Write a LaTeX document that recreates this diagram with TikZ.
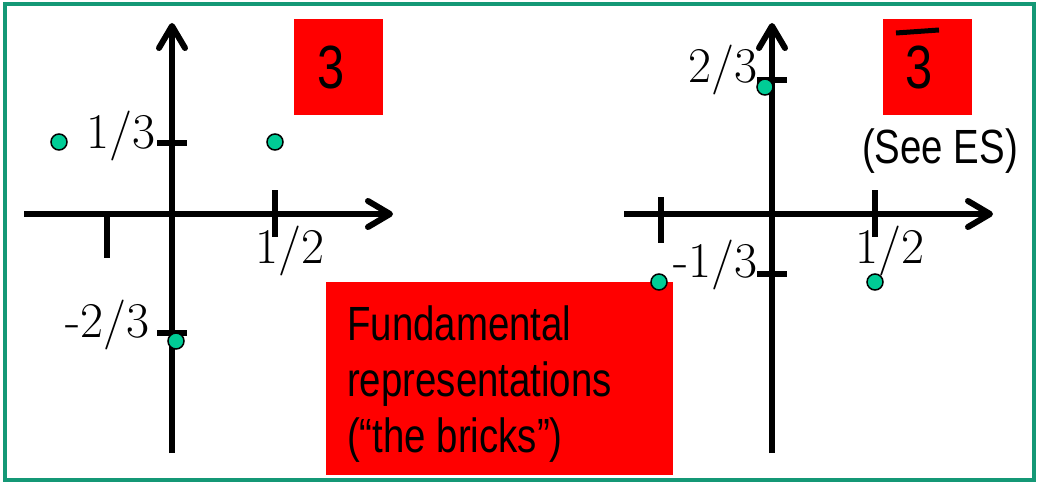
\documentclass[tikz,border=0pt]{standalone}
\usepackage{fontspec}
\newfontfamily\narrowsans[FakeStretch=0.8]{Liberation Sans}
\usetikzlibrary{arrows.meta}
\definecolor{framegreen}{RGB}{20,152,118}
\definecolor{dotgreen}{RGB}{0,204,150}
\definecolor{boxred}{RGB}{255,0,0}
\begin{document}
\begin{tikzpicture}[x=1pt,y=-1pt,
  axis/.style={line width=6pt,-{Straight Barb[length=22pt,width=26pt,round]}},
  tickline/.style={line width=6pt},
  dot/.style={circle,minimum size=16pt,inner sep=0pt,fill=dotgreen,draw=black,line width=1.5pt},
  lab/.style={inner sep=0pt,font=\fontsize{50}{50}\selectfont},
  redbox/.style={fill=boxred,inner sep=0pt,draw=none},
  boxtext/.style={inner sep=0pt,font=\narrowsans\fontsize{48}{56}\selectfont},
  bigthree/.style={inner sep=0pt,font=\narrowsans\fontsize{61}{61}\selectfont}]
\useasboundingbox (0,0) rectangle (1038,484);
\node[draw=framegreen,line width=4pt,minimum width=1029pt,minimum height=476pt,inner sep=0pt] (frame) at (519.5,242) {};
% ---------- left diagram ----------
\coordinate (Lxs) at (24,214);  \coordinate (Lxe) at (393,214);
\coordinate (Lys) at (172,453); \coordinate (Lye) at (172,23);
\draw[axis] (Lxs) -- (Lxe);
\draw[axis] (Lys) -- (Lye);
\coordinate (Lt1a) at (157,143); \coordinate (Lt1b) at (187,143);
\coordinate (Lt2a) at (157,333); \coordinate (Lt2b) at (187,333);
\coordinate (Lt3a) at (107,214); \coordinate (Lt3b) at (107,258);
\coordinate (Lt4a) at (275,190); \coordinate (Lt4b) at (275,237);
\draw[tickline] (Lt1a) -- (Lt1b);
\draw[tickline] (Lt2a) -- (Lt2b);
\draw[tickline] (Lt3a) -- (Lt3b);
\draw[tickline] (Lt4a) -- (Lt4b);
\node[lab,anchor=base east] (Ll1) at (156,148) {1/3};
\node[lab,anchor=base east] (Ll2) at (150,337) {-2/3};
\node[lab,anchor=base] (Ll3) at (290,263) {1/2};
\node[dot] (Ld1) at (59,142) {};
\node[dot] (Ld2) at (275,142) {};
\node[dot] (Ld3) at (176,341) {};
\node[redbox,minimum width=89pt,minimum height=96pt] (Lbox) at (338.5,67) {};
\node[bigthree,anchor=base] (Lthree) at (331,89) {3};
% ---------- right diagram ----------
\coordinate (Rxs) at (624,214); \coordinate (Rxe) at (993,214);
\coordinate (Rys) at (772,453); \coordinate (Rye) at (772,23);
\draw[axis] (Rxs) -- (Rxe);
\draw[axis] (Rys) -- (Rye);
\coordinate (Rt1a) at (757,80);  \coordinate (Rt1b) at (787,80);
\coordinate (Rt2a) at (757,274); \coordinate (Rt2b) at (787,274);
\coordinate (Rt3a) at (661,197); \coordinate (Rt3b) at (661,243);
\coordinate (Rt4a) at (875,190); \coordinate (Rt4b) at (875,237);
\draw[tickline] (Rt1a) -- (Rt1b);
\draw[tickline] (Rt2a) -- (Rt2b);
\draw[tickline] (Rt3a) -- (Rt3b);
\draw[tickline] (Rt4a) -- (Rt4b);
\node[lab,anchor=base east] (Rl1) at (758,83) {2/3};
\node[lab,anchor=base east] (Rl2) at (758,277) {-1/3};
\node[lab,anchor=base] (Rl3) at (890,263) {1/2};
\node[redbox,minimum width=347pt,minimum height=193pt] (Fbox) at (499.5,378.5) {};
\node[boxtext,anchor=base west] (Ft1) at (347,340) {Fundamental};
\node[boxtext,anchor=base west] (Ft2) at (347,396) {representations};
\node[boxtext,anchor=base west] (Ft3) at (347,452) {(“the bricks”)};
\node[dot] (Rd1) at (765,87) {};
\node[dot] (Rd2) at (659,282) {};
\node[dot] (Rd3) at (875,282) {};
\node[redbox,minimum width=89pt,minimum height=96pt] (Rbox) at (927.5,67) {};
\node[bigthree,anchor=base] (Rthree) at (919,89) {3};
\coordinate (Bar1) at (896,33); \coordinate (Bar2) at (939,30);
\draw[line width=5pt] (Bar1) -- (Bar2);
\node[boxtext,anchor=base] (See) at (940,163) {(See ES)};
\end{tikzpicture}
\end{document}
